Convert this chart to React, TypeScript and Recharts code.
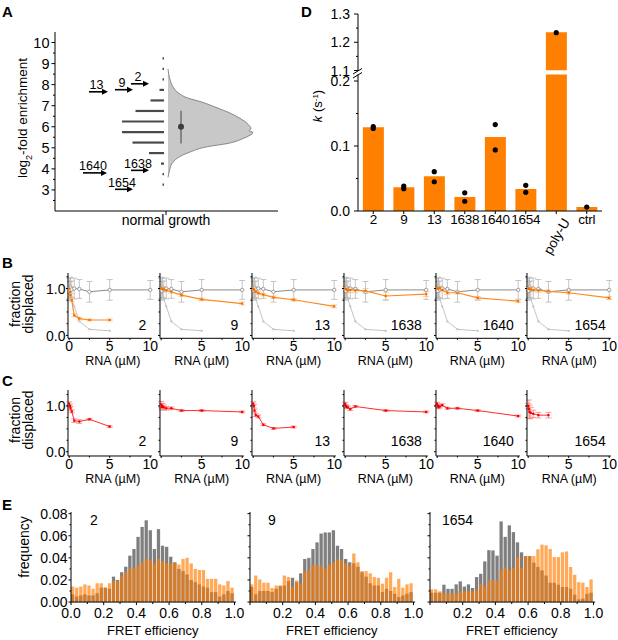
import React from 'react'
import {
  ComposedChart, LineChart, BarChart, Bar, Line, Area, Scatter,
  XAxis, YAxis, ReferenceLine, ErrorBar,
} from 'recharts'

const FONT = '"Liberation Sans", Arial, Helvetica, sans-serif'
const ORANGE = '#ff8000'

// ---------- A: enrichment after selection ----------
const enrichBins = [9.25, 8.75, 8.25, 7.75, 7.25, 6.75, 6.25, 5.75, 5.25, 4.75, 4.25, 3.75, 3.25]
const enrichCounts = [1, 1, 1, 3, 9, 19, 28, 28, 21, 10, 2, 1, 1]
const violinLevels = [3.6, 3.95, 4.25, 4.5, 4.8, 5.05, 5.2, 5.45, 5.6, 5.72, 5.82, 5.9, 6.1, 6.4, 6.65, 6.9, 7.2, 7.35, 7.6, 7.85, 8.2, 8.75]
const violinDensity = [0, 1.6, 4, 9, 22, 39, 59, 75.6, 82, 85, 81, 83, 80.5, 72, 62, 49, 32, 20.6, 10.6, 5.6, 2.3, 0]
const enrichMean = 6.0
const enrichSd = [5.21, 6.76]
const pickedNames = ['13', '9', '2', '1640', '1638', '1654']
const pickedLevels = [7.66, 7.76, 8.04, 3.81, 3.93, 3.03]
const aTicks = [2.5, 3, 3.5, 4, 4.5, 5, 5.5, 6, 6.5, 7, 7.5, 8, 8.5, 9, 9.5, 10]

// ---------- D: rate constants ----------
const kLabels = ['2', '9', '13', '1638', '1640', '1654', 'poly-U', 'ctrl']
const kMean = [0.129, 0.0364, 0.0533, 0.0215, 0.114, 0.034, 1.235, 0.006]
const kRep1 = [0.130, 0.0385, 0.0605, 0.028, 0.133, 0.0395, 1.234, 0.006]
const kRep2 = [0.127, 0.0344, 0.045, 0.015, 0.094, 0.0287, null, null]
const dTicksHi = [1.1, 1.15, 1.2, 1.25, 1.3]
const dTicksLo = [0, 0.05, 0.1, 0.15, 0.2]
const D_BREAK = 1.1

// ---------- B / C: displacement titrations ----------
const rnaNames = ['2', '9', '13', '1638', '1640', '1654']
const fullConc = [0, 0.08, 0.16, 0.31, 0.625, 1.25, 2.5, 5, 10]
const shortConc = [0, 0.08, 0.16, 0.31, 0.625, 1.25, 2.5, 5]
const ctrlFrac = [1.0, 0.95, 1.02, 0.98, 1.0, 0.99, 0.93, 0.97, 0.97]
const ctrlErr = [0.22, 0.2, 0.22, 0.18, 0.22, 0.2, 0.22, 0.22, 0.2]
const refFrac = [1.0, 0.93, 0.85, 0.78, 0.62, 0.3, 0.13, 0.1]

const bConc = [shortConc, fullConc, fullConc, fullConc, fullConc, fullConc]
const bFrac = [
  [1.0, 0.93, 0.86, 0.75, 0.43, 0.36, 0.33, 0.33],
  [1.0, 1.0, 0.99, 0.98, 0.96, 0.93, 0.86, 0.77, 0.68],
  [1.0, 0.98, 0.96, 0.93, 0.9, 0.87, 0.81, 0.76, 0.62],
  [1.0, 0.99, 0.98, 0.97, 0.97, 0.96, 0.95, 0.84, 0.88],
  [1.0, 1.0, 1.01, 1.0, 0.97, 0.91, 0.91, 0.8, 0.73],
  [1.0, 1.0, 0.99, 0.98, 0.97, 0.96, 0.94, 0.91, 0.8],
]
const bErr = [
  [0.03, 0.03, 0.03, 0.03, 0.03, 0.03, 0.02, 0.02],
  [0.03, 0.03, 0.03, 0.03, 0.03, 0.03, 0.03, 0.03, 0.03],
  [0.03, 0.03, 0.03, 0.03, 0.03, 0.03, 0.03, 0.03, 0.03],
  [0.05, 0.05, 0.06, 0.06, 0.05, 0.05, 0.05, 0.08, 0.05],
  [0.04, 0.04, 0.04, 0.04, 0.04, 0.04, 0.03, 0.03, 0.03],
  [0.04, 0.04, 0.04, 0.04, 0.04, 0.04, 0.03, 0.03, 0.03],
]

const cConc = [
  shortConc,
  fullConc,
  shortConc,
  [0, 0.08, 0.16, 0.31, 0.625, 1.25, 5, 10],
  fullConc,
  [0, 0.08, 0.16, 0.31, 0.625, 1.25, 2.5],
]
const cFrac = [
  [1.05, 1.0, 0.95, 0.88, 0.68, 0.66, 0.71, 0.55],
  [1.03, 0.98, 1.0, 0.97, 0.95, 0.95, 0.9, 0.9, 0.87],
  [1.05, 1.0, 0.9, 0.8, 0.77, 0.59, 0.51, 0.54],
  [1.05, 1.0, 0.98, 0.97, 0.93, 0.99, 0.9, 0.87],
  [1.05, 1.0, 0.97, 0.99, 1.02, 0.95, 0.95, 0.9, 0.78],
  [1.0, 0.93, 0.87, 0.85, 0.83, 0.8, 0.8],
]
const cErr = [
  [0.04, 0.04, 0.04, 0.03, 0.04, 0.04, 0.02, 0.02],
  [0.07, 0.07, 0.06, 0.05, 0.04, 0.03, 0.02, 0.02, 0.02],
  [0.04, 0.04, 0.03, 0.03, 0.03, 0.02, 0.02, 0.02],
  [0.03, 0.03, 0.03, 0.03, 0.03, 0.02, 0.02, 0.02],
  [0.03, 0.03, 0.03, 0.03, 0.03, 0.02, 0.02, 0.02, 0.02],
  [0.06, 0.2, 0.15, 0.12, 0.08, 0.06, 0.06],
]
const rnaXTicks = [0, 2.5, 5, 7.5, 10]
const fracTicks = [0, 0.25, 0.5, 0.75, 1, 1.25]

// ---------- E: smFRET histograms ----------
const fretNames = ['2', '9', '1654']
const fretBins = [
  0.0125, 0.0375, 0.0625, 0.0875, 0.1125, 0.1375, 0.1625, 0.1875, 0.2125, 0.2375,
  0.2625, 0.2875, 0.3125, 0.3375, 0.3625, 0.3875, 0.4125, 0.4375, 0.4625, 0.4875,
  0.5125, 0.5375, 0.5625, 0.5875, 0.6125, 0.6375, 0.6625, 0.6875, 0.7125, 0.7375,
  0.7625, 0.7875, 0.8125, 0.8375, 0.8625, 0.8875, 0.9125, 0.9375, 0.9625, 0.9875,
]
const fretGray = [
  [0.007, 0.005, 0.006, 0.007, 0.006, 0.006, 0.008, 0.013, 0.013, 0.012,
    0.023, 0.020, 0.027, 0.032, 0.042, 0.048, 0.059, 0.068, 0.074, 0.065,
    0.048, 0.066, 0.051, 0.050, 0.041, 0.036, 0.030, 0.028, 0.025, 0.020,
    0.018, 0.016, 0.014, 0.013, 0.009, 0.009, 0.005, 0.007, 0.010, 0.008],
  [0.0136, 0.007, 0.010, 0.010, 0.010, 0.009, 0.012, 0.0145, 0.015, 0.019,
    0.022, 0.018, 0.026, 0.039, 0.040, 0.048, 0.054, 0.062, 0.063, 0.063,
    0.065, 0.051, 0.048, 0.039, 0.036, 0.035, 0.032, 0.027, 0.023, 0.017,
    0.015, 0.015, 0.009, 0.012, 0.010, 0.0075, 0.0045, 0.006, 0.0075, 0.009],
  [0.0085, 0.0085, 0.0085, 0.0157, 0.012, 0.012, 0.016, 0.0187, 0.014, 0.016,
    0.0127, 0.0226, 0.0256, 0.0368, 0.047, 0.0467, 0.042, 0.073, 0.059, 0.0694,
    0.0633, 0.054, 0.045, 0.0416, 0.0416, 0.0356, 0.0317, 0.0287, 0.024, 0.0175,
    0.0175, 0.0157, 0.0136, 0.0136, 0.012, 0.0066, 0.0024, 0.003, 0.0075, 0.0085],
]
const fretOrange = [
  [0.014, 0.013, 0.014, 0.016, 0.015, 0.012, 0.017, 0.017, 0.013, 0.017,
    0.019, 0.019, 0.024, 0.027, 0.030, 0.031, 0.033, 0.036, 0.039, 0.038,
    0.035, 0.039, 0.037, 0.035, 0.035, 0.036, 0.034, 0.039, 0.040, 0.035,
    0.030, 0.029, 0.029, 0.021, 0.021, 0.021, 0.016, 0.015, 0.019, 0.013],
  [0.016, 0.024, 0.0205, 0.0175, 0.0175, 0.0127, 0.015, 0.015, 0.024, 0.0226,
    0.0136, 0.0196, 0.0166, 0.0277, 0.0286, 0.034, 0.033, 0.033, 0.030, 0.034,
    0.036, 0.0386, 0.038, 0.035, 0.033, 0.044, 0.036, 0.028, 0.028, 0.026,
    0.0226, 0.022, 0.0166, 0.022, 0.027, 0.0136, 0.021, 0.013, 0.016, 0.017],
  [0.0115, 0.0115, 0.0097, 0.008, 0.008, 0.0075, 0.0075, 0.0097, 0.0097, 0.0097,
    0.0097, 0.0106, 0.0166, 0.0136, 0.0196, 0.0196, 0.0196, 0.0287, 0.0314, 0.0287,
    0.031, 0.0407, 0.031, 0.0416, 0.0416, 0.0416, 0.0477, 0.052, 0.0513, 0.048,
    0.0407, 0.0407, 0.045, 0.0458, 0.0317, 0.0247, 0.018, 0.0175, 0.0136, 0.0205],
]
const fretTicks = [0, 0.1, 0.2, 0.3, 0.4, 0.5, 0.6, 0.7, 0.8, 0.9, 1.0]
const freqTicks = [0, 0.01, 0.02, 0.03, 0.04, 0.05, 0.06, 0.07, 0.08]

// ---------- layout ----------
const VIOLIN_BASE = 2
const HIST_RIGHT = -2
const HIST_SCALE = 1.5
const MEAN_X = 15
// arrow placement left of the distribution (A x units, 0 = centre line)
const arrowStart = [-77, -51, -35, -83, -35, -51]
const arrowEnd = [-58, -33, -17, -59, -17, -33]

const COLS = [69.3, 161.2, 253.1, 344.9, 436.8, 528.7] // px of 0 µM in each small plot
const UM = 8.1
const X_DOM: [number, number] = [-0.15, 10.2]
const ROW_B = { top: 272.7, bottom: 338, domain: [-0.06, 1.33] as [number, number] }
const ROW_C = { top: 390, bottom: 456, domain: [-0.094, 1.35] as [number, number] }

const E_X0 = [71, 250, 430]
const E_UNIT = 163.5
const E_ZERO = 601.7
const E_PER = 1105
const E_MAX = 0.0815

// ---------- ticks ----------
type TickSpec = {
  side: 'left' | 'bottom'
  step: number
  fmt?: (v: number) => string
  skip?: number[]
  long?: number
  short?: number
  gap?: number
  size?: number
}

const onStep = (v: number, step: number) => Math.abs(v / step - Math.round(v / step)) < 1e-6

function axisTick(s: TickSpec) {
  const long = s.long ?? 4
  const short = s.short ?? 2
  const gap = s.gap ?? 2
  const size = s.size ?? 14
  return (props: any) => {
    const { x, y, payload } = props
    const v = payload.value as number
    const major = onStep(v, s.step)
    const len = major ? long : short
    const text = major && s.fmt && !(s.skip || []).includes(v) ? s.fmt(v) : null
    if (s.side === 'left') {
      return (
        <g>
          <line x1={x - len} y1={y} x2={x} y2={y} stroke="#000" />
          {text !== null && (
            <text x={x - long - gap} y={y} dy="0.36em" textAnchor="end" fontSize={size} fontFamily={FONT} fill="#000">{text}</text>
          )}
        </g>
      )
    }
    return (
      <g>
        <line x1={x} y1={y} x2={x} y2={y + len} stroke="#000" />
        {text !== null && (
          <text x={x} y={y + long + gap} dy="0.72em" textAnchor="middle" fontSize={size} fontFamily={FONT} fill="#000">{text}</text>
        )}
      </g>
    )
  }
}

const aYTick = axisTick({ side: 'left', step: 1, fmt: (v) => String(v), long: 3.5, short: 2, gap: 2, size: 14.5 })
const aXTick = axisTick({ side: 'bottom', step: 1, long: 4 })
const dYTick = axisTick({ side: 'left', step: 0.1, fmt: (v) => v.toFixed(1), long: 4, short: 2, gap: 4 })
const rnaXFirst = axisTick({ side: 'bottom', step: 5, fmt: (v) => String(v), long: 2, short: 1.5, gap: 1 })
const rnaXRest = axisTick({ side: 'bottom', step: 5, fmt: (v) => String(v), skip: [0], long: 2, short: 1.5, gap: 1 })
const fracYFirst = axisTick({ side: 'left', step: 1, fmt: (v) => v.toFixed(1), long: 2, short: 1.5, gap: 0.5 })
const fracYRest = axisTick({ side: 'left', step: 1, long: 2, short: 1.5 })
const fretXFirst = axisTick({ side: 'bottom', step: 0.2, fmt: (v) => v.toFixed(1), long: 3, short: 2, gap: 2.5 })
const fretXRest = axisTick({ side: 'bottom', step: 0.2, fmt: (v) => v.toFixed(1), skip: [0], long: 3, short: 2, gap: 2.5 })
const freqYFirst = axisTick({ side: 'left', step: 0.02, fmt: (v) => v.toFixed(2), long: 2.5, short: 1.5, gap: 1 })
const freqYRest = axisTick({ side: 'left', step: 0.02, long: 2.5, short: 1.5 })

const dXTick = (p: any) => {
  const { x, y, payload } = p
  const name = payload.value
  return (
    <g>
      <line x1={x} y1={y} x2={x} y2={y + 3} stroke="#000" />
      {name === 'poly-U' ? (
        <text transform={`translate(${x + 6},${y + 6}) rotate(-60)`} textAnchor="end" dy="0.7em" fontSize={13.5} fontFamily={FONT} fill="#000">{name}</text>
      ) : (
        <text x={x} y={y + 3.5} dy="0.72em" textAnchor="middle" fontSize={13.5} fontFamily={FONT} fill="#000" letterSpacing={-0.3}>{name}</text>
      )}
    </g>
  )
}

// ---------- marks ----------
const squareDot = (color: string, s: number) => (p: any) =>
  p.cx == null || p.cy == null ? null : (
    <rect key={p.key ?? p.index} x={p.cx - s / 2} y={p.cy - s / 2} width={s} height={s} fill={color} />
  )
const ringDot = (color: string, r: number) => (p: any) =>
  p.cx == null || p.cy == null ? null : (
    <circle key={p.key ?? p.index} cx={p.cx} cy={p.cy} r={r} fill="#fff" stroke={color} strokeWidth={0.8} />
  )
const repDot = (p: any) =>
  p.cx == null || p.cy == null || p.value == null ? null : (
    <circle key={p.key ?? p.index} cx={p.cx} cy={p.cy} r={2.6} fill="#000" />
  )

const arrowHead = (p: any) => (
  <path d={`M${p.cx},${p.cy} L${p.cx - 6},${p.cy - 3} L${p.cx - 6},${p.cy + 3} Z`} fill="#000" />
)
const arrowTag = (p: any) => (
  <text x={p.cx} y={p.cy - 2.5} textAnchor="middle" fontSize={12.5} fontFamily={FONT} fill="#000">{p.payload.name}</text>
)
const meanDot = (p: any) => <circle cx={p.cx} cy={p.cy} r={3} fill="#3c3c3c" />

function EnrichmentPanel() {
  const violin = violinLevels.map((y, i) => ({ y, w: VIOLIN_BASE + violinDensity[i] }))
  const heads = pickedNames.map((name, i) => ({ name, y: pickedLevels[i], w: arrowEnd[i] }))
  const tags = pickedNames.map((name, i) => ({ name, y: pickedLevels[i], w: (arrowStart[i] + arrowEnd[i]) / 2 - 2 }))
  return (
    <div style={{ position: 'absolute', left: 0, top: 0 }}>
      <ComposedChart layout="vertical" width={290} height={240} margin={{ top: 32, right: 12, left: 0, bottom: 0 }}>
        <XAxis type="number" dataKey="w" domain={[-111, 112]} allowDataOverflow ticks={[0]} interval={0}
          height={29} tickSize={0} tickMargin={0} stroke="#000" tick={aXTick} />
        <YAxis type="number" dataKey="y" domain={[2, 10.5]} allowDataOverflow reversed ticks={aTicks} interval={0}
          width={55} tickSize={0} tickMargin={0} stroke="#000" tick={aYTick} />
        {enrichBins.map((b, i) => (
          <ReferenceLine key={b} segment={[{ x: HIST_RIGHT - enrichCounts[i] * HIST_SCALE, y: b }, { x: HIST_RIGHT, y: b }]}
            stroke="#4a4a4a" strokeWidth={2.2} />
        ))}
        <Area data={violin} dataKey="w" baseValue={VIOLIN_BASE} type="monotone" fill="#c8c8c8" fillOpacity={1}
          stroke="#707070" strokeWidth={0.8} isAnimationActive={false} />
        <ReferenceLine segment={[{ x: MEAN_X, y: enrichSd[0] }, { x: MEAN_X, y: enrichSd[1] }]} stroke="#707070" strokeWidth={1.5} />
        <Scatter data={[{ w: MEAN_X, y: enrichMean }]} shape={meanDot} isAnimationActive={false} />
        {pickedNames.map((n, i) => (
          <ReferenceLine key={n} segment={[{ x: arrowStart[i], y: pickedLevels[i] }, { x: arrowEnd[i] - 3, y: pickedLevels[i] }]}
            stroke="#000" strokeWidth={1.6} />
        ))}
        <Scatter data={heads} shape={arrowHead} isAnimationActive={false} />
        <Scatter data={tags} shape={arrowTag} isAnimationActive={false} />
      </ComposedChart>
    </div>
  )
}

function RatePanel() {
  const table = kLabels.map((name, i) => ({
    name,
    k: kMean[i],
    hi: kMean[i] > D_BREAK ? kMean[i] : null,
    r1: kRep1[i],
    r2: kRep2[i],
  }))
  return (
    <>
      <div style={{ position: 'absolute', left: 300, top: 0 }}>
        <ComposedChart width={318} height={82} data={table} barCategoryGap="16%"
          margin={{ top: 14, right: 16, left: 0, bottom: 11.5 }}>
          <XAxis dataKey="name" hide />
          <YAxis type="number" domain={[D_BREAK, 1.3]} allowDataOverflow ticks={dTicksHi} interval={0}
            width={58} tickSize={0} tickMargin={0} stroke="#000" tick={dYTick} />
          <Bar dataKey="hi" fill={ORANGE} isAnimationActive={false} />
          <Line dataKey="r1" stroke="none" dot={repDot} activeDot={false} isAnimationActive={false} />
          <Line dataKey="r2" stroke="none" dot={repDot} activeDot={false} isAnimationActive={false} />
        </ComposedChart>
      </div>
      <div style={{ position: 'absolute', left: 300, top: 72 }}>
        <ComposedChart width={318} height={188} data={table} barCategoryGap="16%"
          margin={{ top: 2.5, right: 16, left: 0, bottom: 0 }}>
          <XAxis dataKey="name" height={49} tickSize={0} tickMargin={0} interval={0} stroke="#000" tick={dXTick} />
          <YAxis type="number" domain={[0, 0.21]} allowDataOverflow ticks={dTicksLo} interval={0}
            width={58} tickSize={0} tickMargin={0} stroke="#000" tick={dYTick} />
          <Bar dataKey="k" fill={ORANGE} isAnimationActive={false} />
          <Line dataKey="r1" stroke="none" dot={repDot} activeDot={false} isAnimationActive={false} />
          <Line dataKey="r2" stroke="none" dot={repDot} activeDot={false} isAnimationActive={false} />
        </ComposedChart>
      </div>
    </>
  )
}

type Pt = { x: number; y: number; e: number }
type Trace = { data: Pt[]; color: string; width: number; dot: (p: any) => any; err?: string; cap?: number }

const pts = (xs: number[], ys: number[], es?: number[]): Pt[] =>
  xs.map((x, i) => ({ x, y: ys[i], e: es ? es[i] : 0 }))

function RnaPlot({ i, row, traces }: { i: number; row: typeof ROW_B; traces: Trace[] }) {
  const plotLeft = COLS[i] + X_DOM[0] * UM
  const plotW = (X_DOM[1] - X_DOM[0]) * UM
  const plotH = row.bottom - row.top
  const YW = 42
  const TOP = 6
  const RIGHT = 10
  const XH = 24
  return (
    <div style={{ position: 'absolute', left: plotLeft - YW, top: row.top - TOP }}>
      <LineChart width={YW + plotW + RIGHT} height={TOP + plotH + XH} margin={{ top: TOP, right: RIGHT, left: 0, bottom: 0 }}>
        <XAxis type="number" dataKey="x" domain={X_DOM} ticks={rnaXTicks} interval={0} height={XH}
          tickSize={0} tickMargin={0} stroke="#000" tick={i === 0 ? rnaXFirst : rnaXRest} />
        <YAxis type="number" domain={row.domain} ticks={fracTicks} interval={0} width={YW}
          tickSize={0} tickMargin={0} stroke="#000" tick={i === 0 ? fracYFirst : fracYRest} />
        {traces.map((t, k) => (
          <Line key={k} data={t.data} dataKey="y" stroke={t.color} strokeWidth={t.width} dot={t.dot}
            activeDot={false} isAnimationActive={false}>
            {t.err && <ErrorBar dataKey="e" width={t.cap} stroke={t.err} strokeWidth={0.8} direction="y" isAnimationActive={false} />}
          </Line>
        ))}
      </LineChart>
    </div>
  )
}

function FretPlot({ i }: { i: number }) {
  const x0 = E_X0[i]
  const plotW = 1.01 * E_UNIT
  const plotH = E_MAX * E_PER
  const YW = 46
  const TOP = 5
  const RIGHT = 10
  const XH = 24
  const table = fretBins.map((c, k) => ({ c, g: fretGray[i][k], o: fretOrange[i][k] }))
  return (
    <div style={{ position: 'absolute', left: x0 - YW, top: E_ZERO - plotH - TOP }}>
      <BarChart width={YW + plotW + RIGHT} height={TOP + plotH + XH} data={table}
        margin={{ top: TOP, right: RIGHT, left: 0, bottom: 0 }}>
        <XAxis xAxisId="g" type="number" dataKey="c" domain={[0, 1.01]} ticks={fretTicks} interval={0} height={XH}
          tickSize={0} tickMargin={0} stroke="#000" tick={i === 0 ? fretXFirst : fretXRest} />
        <XAxis xAxisId="o" type="number" dataKey="c" domain={[0, 1.01]} hide />
        <YAxis type="number" domain={[0, E_MAX]} ticks={freqTicks} interval={0} width={YW}
          tickSize={0} tickMargin={0} stroke="#000" tick={i === 0 ? freqYFirst : freqYRest} />
        <Bar xAxisId="g" dataKey="g" fill="#7f7f7f" barSize={3.3} isAnimationActive={false} />
        <Bar xAxisId="o" dataKey="o" fill="#ff7b00" fillOpacity={0.65} barSize={3.3} isAnimationActive={false} />
      </BarChart>
    </div>
  )
}

function Overlay() {
  const t = { fontFamily: FONT, fill: '#000' }
  const letter = { ...t, fontSize: 15, fontWeight: 700 }
  return (
    <svg width={618} height={640} style={{ position: 'absolute', left: 0, top: 0, pointerEvents: 'none' }}>
      <text x={2} y={17} {...letter}>A</text>
      <text x={301} y={17} {...letter}>D</text>
      <text x={2} y={268} {...letter}>B</text>
      <text x={2} y={386} {...letter}>C</text>
      <text x={2} y={510} {...letter}>E</text>

      <text transform="translate(27,118) rotate(-90)" textAnchor="middle" fontSize={13.5} {...t}>
        log<tspan baselineShift="sub" fontSize={9}>2</tspan>-fold enrichment
      </text>
      <text x={166} y={225} textAnchor="middle" fontSize={14} {...t}>normal growth</text>

      <text transform="translate(322,106) rotate(-90)" textAnchor="middle" fontSize={13} {...t}>
        <tspan fontStyle="italic">k</tspan> (s<tspan baselineShift="super" fontSize={8}>-1</tspan>)
      </text>
      <line x1={353} y1={74} x2={362} y2={68.5} stroke="#000" />
      <line x1={353} y1={78} x2={362} y2={72.5} stroke="#000" />

      {[304, 420].map((cy) => (
        <g key={cy}>
          <text transform={`translate(20,${cy}) rotate(-90)`} textAnchor="middle" fontSize={14} {...t}>fraction</text>
          <text transform={`translate(33,${cy}) rotate(-90)`} textAnchor="middle" fontSize={14} {...t}>displaced</text>
        </g>
      ))}
      {COLS.map((c, i) => (
        <g key={c}>
          <text x={c + 40.5 + (i === 0 ? 3 : 0)} y={364.5} textAnchor="middle" fontSize={12.5} {...t}>RNA (µM)</text>
          <text x={c + 40.5 + (i === 0 ? 3 : 0)} y={482.5} textAnchor="middle" fontSize={12.5} {...t}>RNA (µM)</text>
          <text x={c + 77} y={330} textAnchor="end" fontSize={14} {...t}>{rnaNames[i]}</text>
          <text x={c + 77} y={446.3} textAnchor="end" fontSize={14} {...t}>{rnaNames[i]}</text>
        </g>
      ))}

      <text transform="translate(29,547) rotate(-90)" textAnchor="middle" fontSize={14} {...t}>frequency</text>
      {E_X0.map((x0, i) => (
        <g key={x0}>
          <text x={x0 + E_UNIT / 2} y={634.5} textAnchor="middle" fontSize={13} {...t}>FRET efficiency</text>
          <text x={x0 + [19, 18, 12][i]} y={525} fontSize={14} {...t}>{fretNames[i]}</text>
        </g>
      ))}
    </svg>
  )
}

export default function App() {
  const ctrl: Trace = { data: pts(fullConc, ctrlFrac, ctrlErr), color: '#8a8a8a', width: 1, dot: ringDot('#8a8a8a', 1.7), err: '#b8b8b8', cap: 3 }
  const ref: Trace = { data: pts(shortConc, refFrac), color: '#c4c4c4', width: 1, dot: squareDot('#c4c4c4', 2) }
  return (
    <div style={{ position: 'absolute', left: 0, top: 0, width: 618, height: 640, background: '#fff', overflow: 'hidden', fontFamily: FONT }}>
      <EnrichmentPanel />
      <RatePanel />
      {rnaNames.map((n, i) => (
        <RnaPlot key={'b' + n} i={i} row={ROW_B} traces={[
          ref,
          ctrl,
          { data: pts(bConc[i], bFrac[i], bErr[i]), color: '#ff8a1c', width: 1.2, dot: squareDot('#f07000', 2.2), err: '#ffbf80', cap: 3 },
        ]} />
      ))}
      {rnaNames.map((n, i) => (
        <RnaPlot key={'c' + n} i={i} row={ROW_C} traces={[
          { data: pts(cConc[i], cFrac[i], cErr[i]), color: '#ff2a2a', width: 1, dot: squareDot('#ee0000', 2.2), err: '#ff8080', cap: 3 },
        ]} />
      ))}
      {fretNames.map((n, i) => <FretPlot key={n} i={i} />)}
      <Overlay />
    </div>
  )
}
